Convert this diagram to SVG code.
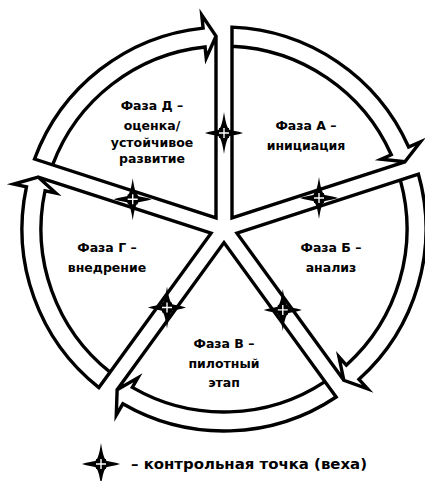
<svg xmlns="http://www.w3.org/2000/svg" xmlns:xlink="http://www.w3.org/1999/xlink" width="425" height="481" viewBox="0 0 425 481">
<style>
.sec{fill:none;stroke:#000;stroke-width:3.4;stroke-linejoin:miter;stroke-miterlimit:10}
.lbl{font-family:"DejaVu Sans",sans-serif;font-weight:bold;font-size:12.5px;fill:#000;text-anchor:middle}
.leg{font-family:"DejaVu Sans",sans-serif;font-weight:bold;font-size:14px;fill:#000}
.cross{stroke:#fff;stroke-width:1.4;fill:none}
</style>
<defs>
<path id="sector" class="sec" d="M404.92 161.8 L232 217.99 L232 27.16 A202 202 0 0 1 408.64 147.05 L420.52 141.77 L404.92 161.8 L381.21 159.22 L391.27 154.76 A183 183 0 0 0 232 46.18"/>
<g id="star">
<path d="M0 -21 Q2.5 -4 6 -3 Q17 -1 19 0 Q17 1 6 3 Q2.5 4 0 21 Q-2.5 4 -6 3 Q-17 1 -19 0 Q-17 -1 -6 -3 Q-2.5 -4 0 -21Z" fill="#000"/>
<rect x="-5" y="-5" width="10" height="10" fill="#000"/>
<path class="cross" d="M-5 0H5M0 -5V5"/>
</g>
</defs>
<rect width="425" height="481" fill="#fff"/>
<g id="phase-A">
<use xlink:href="#sector"/>
<text class="lbl" x="306" y="129.5">Фаза А –</text>
<text class="lbl" x="306" y="149.5">инициация</text>
</g>
<g id="phase-B">
<use xlink:href="#sector" transform="rotate(72 224 229)"/>
<text class="lbl" x="331" y="251.5">Фаза Б –</text>
<text class="lbl" x="331" y="271.5">анализ</text>
</g>
<g id="phase-V">
<use xlink:href="#sector" transform="rotate(144 224 229)"/>
<text class="lbl" x="224" y="347.5">Фаза В –</text>
<text class="lbl" x="224" y="367.5">пилотный</text>
<text class="lbl" x="224" y="386.5">этап</text>
</g>
<g id="phase-G">
<use xlink:href="#sector" transform="rotate(216 224 229)"/>
<text class="lbl" x="107" y="251.5">Фаза Г –</text>
<text class="lbl" x="107" y="271.5">внедрение</text>
</g>
<g id="phase-D">
<use xlink:href="#sector" transform="rotate(288 224 229)"/>
<text class="lbl" x="152" y="109.5">Фаза Д –</text>
<text class="lbl" x="152" y="129.5">оценка/</text>
<text class="lbl" x="152" y="146.5">устойчивое</text>
<text class="lbl" x="152" y="163">развитие</text>
</g>
<g id="milestones">
<use xlink:href="#star" transform="translate(224 133)"/>
<use xlink:href="#star" transform="translate(319 198)"/>
<use xlink:href="#star" transform="translate(282.8 309.9)"/>
<use xlink:href="#star" transform="translate(167 307.5)"/>
<use xlink:href="#star" transform="translate(132.7 199.3)"/>
</g>
<g id="legend">
<use xlink:href="#star" transform="translate(101 464)"/>
<text class="leg" x="131" y="469" textLength="236" lengthAdjust="spacingAndGlyphs">– контрольная точка (веха)</text>
</g>
</svg>
